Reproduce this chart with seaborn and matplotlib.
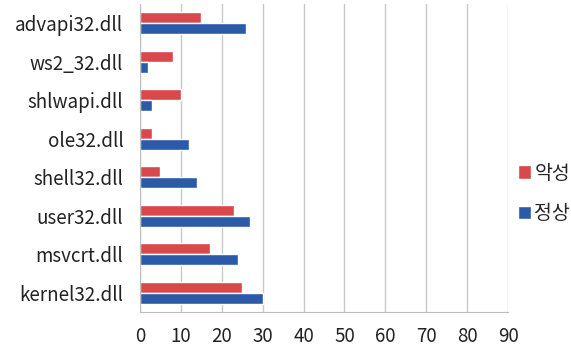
import numpy as np
import pandas as pd
import matplotlib
matplotlib.use("Agg")
import matplotlib.pyplot as plt
import seaborn as sns

dlls = ["advapi32.dll", "ws2_32.dll", "shlwapi.dll", "ole32.dll",
        "shell32.dll", "user32.dll", "msvcrt.dll", "kernel32.dll"]
malicious = [15, 8, 10, 3, 5, 23, 17, 25]
normal = [26, 2, 3, 12, 14, 27, 24, 30]
series = ["악성", "정상"]
x_ticks = [0, 10, 20, 30, 40, 50, 60, 70, 80, 90]

df = pd.DataFrame({
    "dll": dlls * 2,
    "value": malicious + normal,
    "kind": [series[0]] * len(dlls) + [series[1]] * len(dlls),
})

sns.set_style("white")
plt.rcParams["font.family"] = ["Noto Sans CJK KR", "DejaVu Sans"]

fig = plt.figure(figsize=(5.71, 3.51), dpi=100)
ax = fig.add_axes([140 / 571, 1 - 312 / 351, (508 - 140) / 571, (312 - 4) / 351])

sns.barplot(data=df, x="value", y="dll", hue="kind", order=dlls,
            hue_order=series, palette=["#d9484b", "#2b5ba8"],
            width=0.58, orient="h", ax=ax, saturation=1)

ax.set_xlim(0, 90)
ax.set_ylim(len(dlls) - 0.5, -0.5)
ax.set_xticks(x_ticks)
ax.xaxis.grid(True, color="#c8c8c8", linewidth=1)
ax.set_axisbelow(True)
ax.set_xlabel("")
ax.set_ylabel("")
for s in ["top", "right"]:
    ax.spines[s].set_visible(False)
for s in ["left", "bottom"]:
    ax.spines[s].set_color("#bdbdbd")
ax.tick_params(axis="x", length=4, color="#bdbdbd", labelsize=13.5,
               labelcolor="#222222", pad=6)
ax.tick_params(axis="y", length=0, labelsize=13.5, labelcolor="#222222", pad=12)
ax.set_yticks(np.arange(-0.5, len(dlls), 1), minor=True)
ax.tick_params(axis="y", which="minor", length=4, color="#bdbdbd")

leg = ax.legend(loc="center left", bbox_to_anchor=(1.0, 0.385), frameon=False,
                fontsize=14, handlelength=0.7, handleheight=0.7,
                handletextpad=0.15, labelspacing=1.0, borderaxespad=0.1)

fig.savefig("out.png", dpi=100)
